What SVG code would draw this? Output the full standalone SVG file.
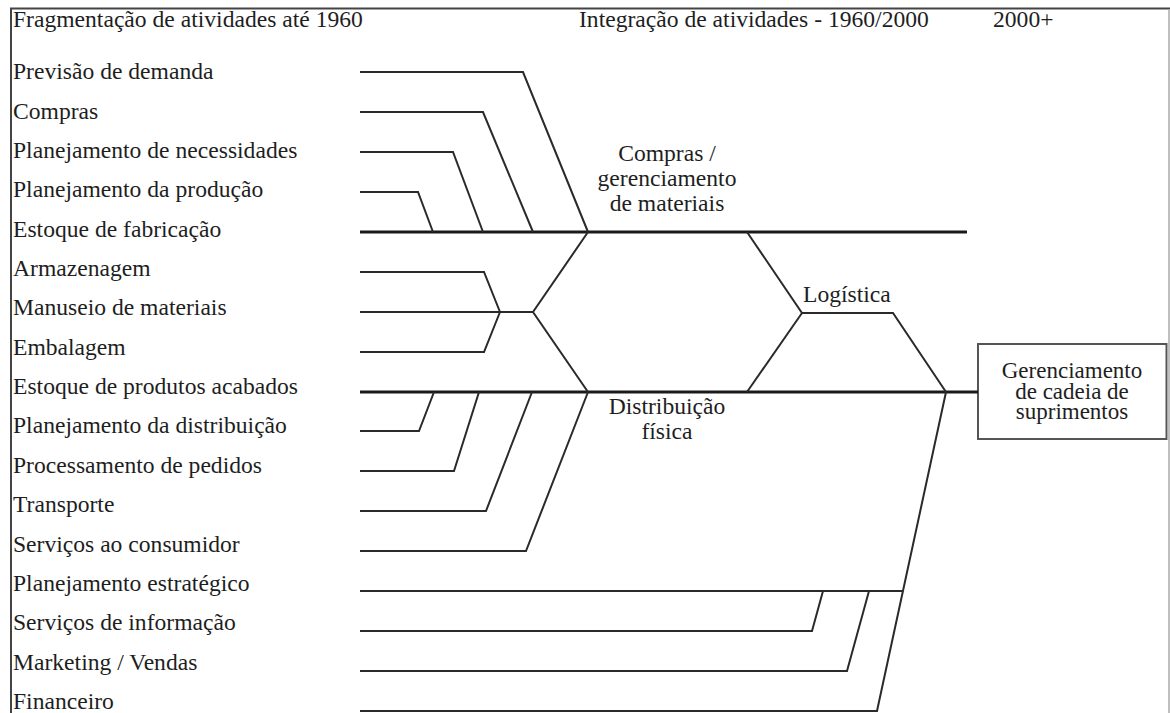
<svg xmlns="http://www.w3.org/2000/svg" width="1170" height="713" viewBox="0 0 1170 713">
<style>
text{font-family:'Liberation Serif','Times New Roman',serif;font-size:23.6px;fill:#1e1e1e}
.c{text-anchor:middle}
.bx{font-size:23px}
.main{fill:none;stroke:#1a1a1a;stroke-width:3}
.br{fill:none;stroke:#2a2a2a;stroke-width:2}
.frame{fill:none;stroke:#444;stroke-width:2}
</style>
<rect x="0" y="0" width="1170" height="713" fill="#fff"/>
<g id="frame">
<path class="frame" d="M10,8.5 H1170 M11,8 V713"/>
<path d="M1169,9 V713" stroke="#aaa" stroke-width="1.5" fill="none"/>
</g>
<g font-family="Liberation Serif, serif">
<g id="headers">
<text x="13" y="27">Fragmentação de atividades até 1960</text>
<text x="579" y="27">Integração de atividades - 1960/2000</text>
<text x="993" y="27">2000+</text>
</g>
<g id="labels">
<g id="n-previsao"><text x="13" y="79.3">Previsão de demanda</text></g>
<g id="n-compras"><text x="13" y="118.6">Compras</text></g>
<g id="n-necessidades"><text x="13" y="158">Planejamento de necessidades</text></g>
<g id="n-producao"><text x="13" y="197.3">Planejamento da produção</text></g>
<g id="n-estoque-fab"><text x="13" y="236.7">Estoque de fabricação</text></g>
<g id="n-armazenagem"><text x="13" y="276">Armazenagem</text></g>
<g id="n-manuseio"><text x="13" y="315.4">Manuseio de materiais</text></g>
<g id="n-embalagem"><text x="13" y="354.7">Embalagem</text></g>
<g id="n-estoque-prod"><text x="13" y="394.1">Estoque de produtos acabados</text></g>
<g id="n-plan-dist"><text x="13" y="433.4">Planejamento da distribuição</text></g>
<g id="n-processamento"><text x="13" y="472.8">Processamento de pedidos</text></g>
<g id="n-transporte"><text x="13" y="512.1">Transporte</text></g>
<g id="n-servicos-cons"><text x="13" y="551.5">Serviços ao consumidor</text></g>
<g id="n-plan-estr"><text x="13" y="590.8">Planejamento estratégico</text></g>
<g id="n-servicos-info"><text x="13" y="630.2">Serviços de informação</text></g>
<g id="n-marketing"><text x="13" y="669.5">Marketing / Vendas</text></g>
<g id="n-financeiro"><text x="13" y="708.9">Financeiro</text></g>
</g>
<g id="n-compras-ger">
<text class="c" x="667" y="160.7">Compras /</text>
<text class="c" x="667" y="186">gerenciamento</text>
<text class="c" x="667" y="211">de materiais</text>
</g>
<g id="n-distribuicao">
<text class="c" x="667" y="414">Distribuição</text>
<text class="c" x="667" y="439">física</text>
</g>
<g id="n-logistica">
<text x="803" y="301.7">Logística</text>
</g>
<g id="n-scm">
<rect x="978" y="344" width="188.5" height="95" fill="#fff" stroke="#555" stroke-width="2"/>
<text class="c bx" x="1072" y="378">Gerenciamento</text>
<text class="c bx" x="1072" y="398.7">de cadeia de</text>
<text class="c bx" x="1072" y="418.7">suprimentos</text>
</g>
</g>
<g id="connectors">
<path class="main" d="M360,232 H967"/>
<path class="main" d="M360,392 H978"/>
<path class="br" d="M360,72 H523 L588,232"/>
<path class="br" d="M360,112 H483 L533,232"/>
<path class="br" d="M360,152 H453 L483,232"/>
<path class="br" d="M360,192 H418 L433,232"/>
<path class="br" d="M360,272 H484 L500,312"/>
<path class="br" d="M360,312 H533"/>
<path class="br" d="M360,352 H484 L500,312"/>
<path class="br" d="M588,232 L533,312 L588,392"/>
<path class="br" d="M360,431 H419 L434,392"/>
<path class="br" d="M360,471 H454 L479,392"/>
<path class="br" d="M360,511 H486 L532,392"/>
<path class="br" d="M360,551 H526 L588,392"/>
<path class="br" d="M747,232 L802,313 H893 L946,392"/>
<path class="br" d="M747,392 L802,313"/>
<path class="br" d="M946,392 L877,711 H360"/>
<path class="br" d="M360,591 H902"/>
<path class="br" d="M360,631 H812 L823,591"/>
<path class="br" d="M360,671 H847 L869,591"/>
</g>
</svg>
